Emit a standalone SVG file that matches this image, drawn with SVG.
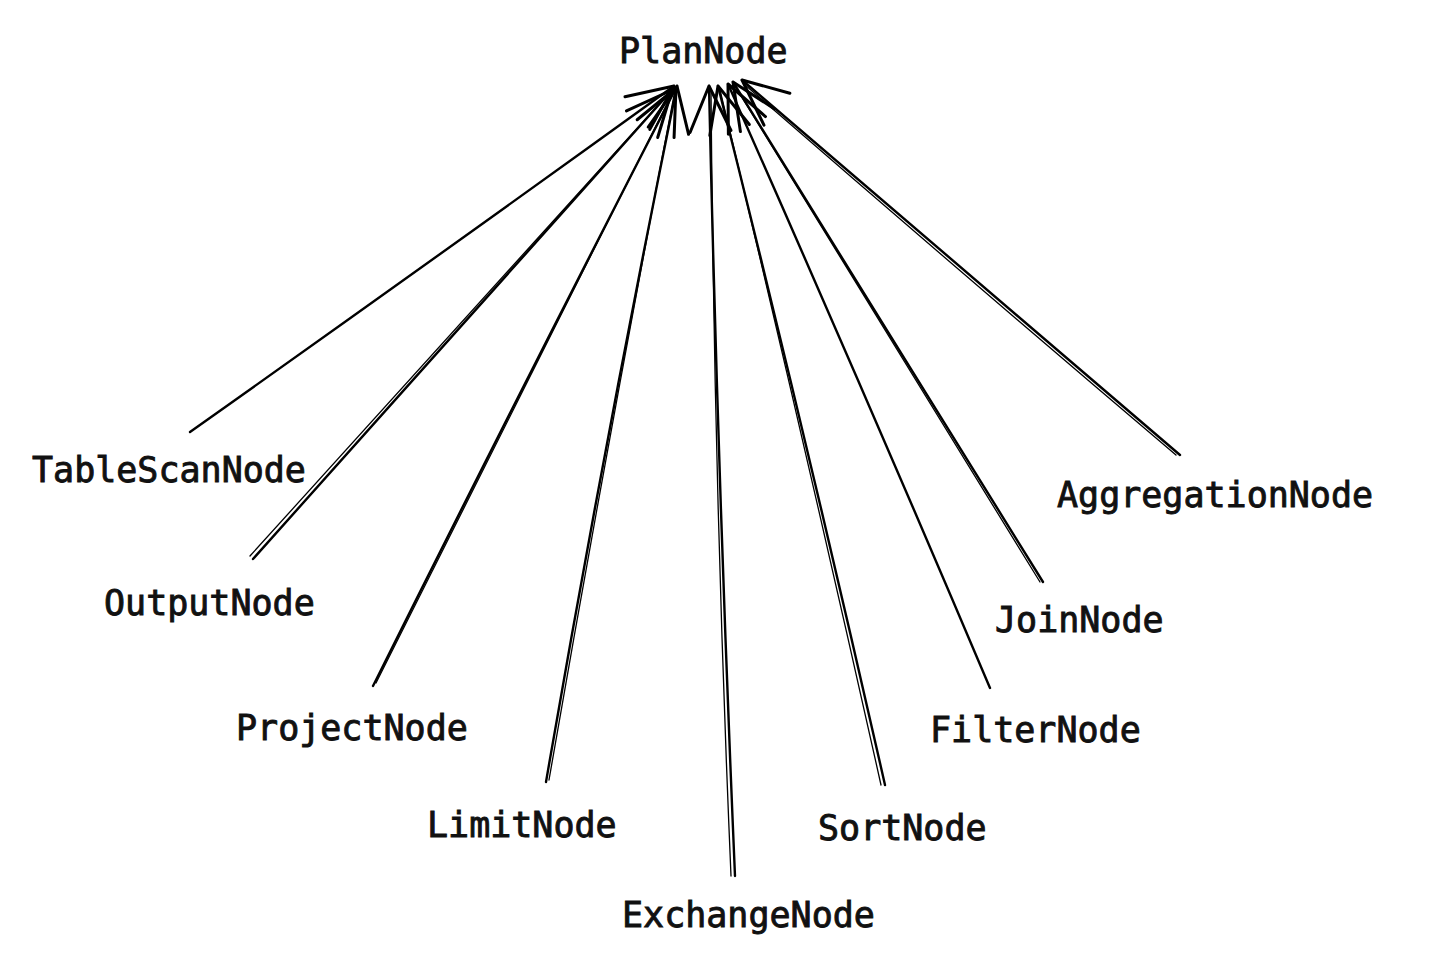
<svg xmlns="http://www.w3.org/2000/svg" width="1434" height="966" viewBox="0 0 1434 966">
<style>
.lbl{font-family:"DejaVu Sans Mono","Liberation Mono",monospace;font-size:35px;fill:#111;stroke:#111;stroke-width:0.9px}
.c{fill:none;stroke:#000;stroke-width:2.4;stroke-linecap:round;stroke-linejoin:round}
.c2{fill:none;stroke:#000;stroke-width:1.3;stroke-linecap:round}
</style>
<defs>
<marker id="ah" markerUnits="userSpaceOnUse" markerWidth="80" markerHeight="80" refX="0" refY="0" viewBox="-60 -40 80 80" orient="auto" overflow="visible">
<path d="M-46,-20 L0,0 L-45,21" fill="none" stroke="#000" stroke-width="3" stroke-linecap="round" stroke-linejoin="round"/>
</marker>
</defs>
<rect width="1434" height="966" fill="#fff"/>
<g id="connectors">
<path class="c" d="M190,432 Q430,262 674,86" marker-end="url(#ah)"/>
<path class="c2" d="M250,556 Q460,323 670,92"/>
<path class="c" d="M253,559 Q462,325 672,90" marker-end="url(#ah)"/>
<path class="c" d="M373,686 Q522,387 676,88" marker-end="url(#ah)"/>
<path class="c2" d="M376,683 Q525,386 674,90"/>
<path class="c" d="M546,782 Q606,434 677,86" marker-end="url(#ah)"/>
<path class="c2" d="M549,780 Q609,434 675,90"/>
<path class="c" d="M735,876 Q718,481 709,86" marker-end="url(#ah)"/>
<path class="c2" d="M731,876 Q714,481 711,90"/>
<path class="c" d="M885,785 Q806,436 718,86" marker-end="url(#ah)"/>
<path class="c2" d="M881,785 Q803,436 720,90"/>
<path class="c" d="M990,688 Q862,386 728,84" marker-end="url(#ah)"/>
<path class="c" d="M1043,582 Q888,330 733,82" marker-end="url(#ah)"/>
<path class="c2" d="M1040,582 Q885,331 735,86"/>
<path class="c" d="M1180,455 Q962,268 742,80" marker-end="url(#ah)"/>
<path class="c2" d="M1176,455 Q958,270 744,84"/>
</g>
<g id="plannode"><text class="lbl" x="619" y="63">PlanNode</text></g>
<g id="tablescannode"><text class="lbl" x="32" y="482">TableScanNode</text></g>
<g id="outputnode"><text class="lbl" x="104" y="615">OutputNode</text></g>
<g id="projectnode"><text class="lbl" x="236" y="740">ProjectNode</text></g>
<g id="limitnode"><text class="lbl" x="427" y="837">LimitNode</text></g>
<g id="exchangenode"><text class="lbl" x="622" y="927">ExchangeNode</text></g>
<g id="sortnode"><text class="lbl" x="818" y="840">SortNode</text></g>
<g id="filternode"><text class="lbl" x="930" y="742">FilterNode</text></g>
<g id="joinnode"><text class="lbl" x="995" y="632">JoinNode</text></g>
<g id="aggregationnode"><text class="lbl" x="1057" y="507">AggregationNode</text></g>
</svg>
